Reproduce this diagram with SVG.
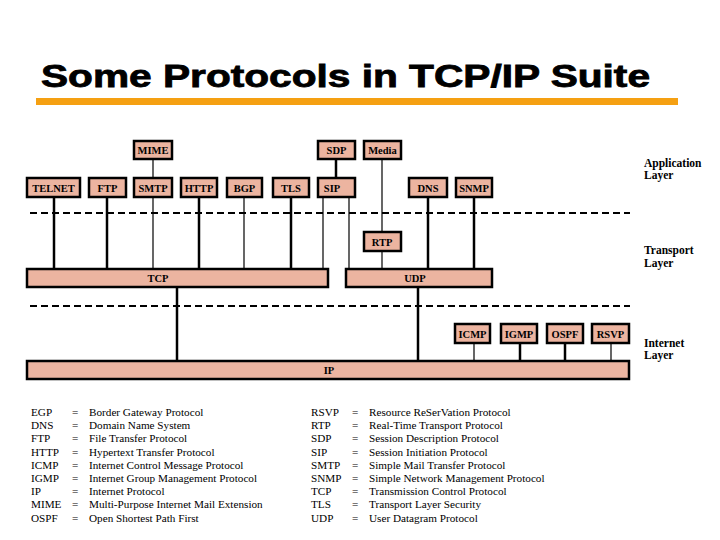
<svg xmlns="http://www.w3.org/2000/svg" width="720" height="540" viewBox="0 0 720 540">
<style>
.box{fill:#ecb4a0;stroke:#000;stroke-width:2.5}
.lbl{font-family:"Liberation Serif","Times New Roman",serif;font-weight:bold;font-size:10.5px;text-anchor:middle;fill:#000}
.thick{stroke:#000;stroke-width:2.5;fill:none}
.thin{stroke:#000;stroke-width:1.2;fill:none}
.dash{stroke:#000;stroke-width:2;stroke-dasharray:7 4;fill:none}
.layer{font-family:"Liberation Serif","Times New Roman",serif;font-weight:bold;font-size:11.5px;fill:#000}
.leg{font-family:"Liberation Serif","Times New Roman",serif;font-size:11.2px;fill:#000}
</style>
<rect width="720" height="540" fill="#fff"/>
<text x="41" y="87" font-family="'Liberation Sans',Arial,sans-serif" font-weight="bold" font-size="31" stroke="#000" stroke-width="0.8" textLength="609" lengthAdjust="spacingAndGlyphs">Some Protocols in TCP/IP Suite</text>
<rect x="36" y="98" width="642" height="7" fill="#f5a012"/>

<g id="connectors">
<line class="dash" x1="30" y1="213" x2="630" y2="213"/>
<line class="dash" x1="30" y1="306" x2="630" y2="306"/>
<line class="thin" x1="153" y1="159" x2="153" y2="178"/>
<line class="thick" x1="336" y1="159" x2="336" y2="178"/>
<line class="thin" x1="382" y1="159" x2="382" y2="232"/>
<line class="thick" x1="54" y1="197" x2="54" y2="269"/>
<line class="thick" x1="107" y1="197" x2="107" y2="269"/>
<line class="thin" x1="153" y1="197" x2="153" y2="269"/>
<line class="thick" x1="199" y1="197" x2="199" y2="269"/>
<line class="thin" x1="244" y1="197" x2="244" y2="269"/>
<line class="thick" x1="291" y1="197" x2="291" y2="269"/>
<line class="thin" x1="323" y1="197" x2="323" y2="269"/>
<line class="thin" x1="349" y1="197" x2="349" y2="269"/>
<line class="thin" x1="382" y1="251" x2="382" y2="269"/>
<line class="thick" x1="428" y1="197" x2="428" y2="269"/>
<line class="thick" x1="474" y1="197" x2="474" y2="269"/>
<line class="thick" x1="177" y1="287" x2="177" y2="361"/>
<line class="thick" x1="418" y1="287" x2="418" y2="361"/>
<line class="thin" x1="474" y1="343" x2="474" y2="361"/>
<line class="thick" x1="520" y1="343" x2="520" y2="361"/>
<line class="thick" x1="565" y1="343" x2="565" y2="361"/>
<line class="thin" x1="611" y1="343" x2="611" y2="361"/>
</g>

<g id="MIME"><rect class="box" x="134" y="141" width="38" height="18"/><text class="lbl" x="153" y="153.5">MIME</text></g>
<g id="SDP"><rect class="box" x="318" y="141" width="37" height="18"/><text class="lbl" x="336.5" y="153.5">SDP</text></g>
<g id="Media"><rect class="box" x="364" y="141" width="37" height="18"/><text class="lbl" x="382.5" y="153.5">Media</text></g>
<g id="TELNET"><rect class="box" x="27" y="178" width="53" height="19"/><text class="lbl" x="53.5" y="191.5">TELNET</text></g>
<g id="FTP"><rect class="box" x="89" y="178" width="37" height="19"/><text class="lbl" x="107.5" y="191.5">FTP</text></g>
<g id="SMTP"><rect class="box" x="134" y="178" width="38" height="19"/><text class="lbl" x="153" y="191.5">SMTP</text></g>
<g id="HTTP"><rect class="box" x="181" y="178" width="36" height="19"/><text class="lbl" x="199" y="191.5">HTTP</text></g>
<g id="BGP"><rect class="box" x="227" y="178" width="35" height="19"/><text class="lbl" x="244.5" y="191.5">BGP</text></g>
<g id="TLS"><rect class="box" x="273" y="178" width="36" height="19"/><text class="lbl" x="291" y="191.5">TLS</text></g>
<g id="SIP"><rect class="box" x="318" y="178" width="37" height="19"/><text class="lbl" x="332" y="191.5">SIP</text></g>
<g id="DNS"><rect class="box" x="409" y="178" width="38" height="19"/><text class="lbl" x="428" y="191.5">DNS</text></g>
<g id="SNMP"><rect class="box" x="456" y="178" width="36" height="19"/><text class="lbl" x="474" y="191.5">SNMP</text></g>
<g id="RTP"><rect class="box" x="364" y="232" width="37" height="19"/><text class="lbl" x="382" y="245.5">RTP</text></g>
<g id="TCP"><rect class="box" x="27" y="269" width="301" height="18"/><text class="lbl" x="158" y="282">TCP</text></g>
<g id="UDP"><rect class="box" x="346" y="269" width="146" height="18"/><text class="lbl" x="415" y="282">UDP</text></g>
<g id="ICMP"><rect class="box" x="455" y="324" width="35" height="19"/><text class="lbl" x="472.5" y="337.5">ICMP</text></g>
<g id="IGMP"><rect class="box" x="501" y="324" width="36" height="19"/><text class="lbl" x="519" y="337.5">IGMP</text></g>
<g id="OSPF"><rect class="box" x="547" y="324" width="36" height="19"/><text class="lbl" x="565" y="337.5">OSPF</text></g>
<g id="RSVP"><rect class="box" x="592" y="324" width="37" height="19"/><text class="lbl" x="610.5" y="337.5">RSVP</text></g>
<g id="IP"><rect class="box" x="27" y="361" width="602" height="18"/><text class="lbl" x="329" y="374">IP</text></g>

<g id="layers">
<text class="layer" x="644" y="167">Application</text>
<text class="layer" x="644" y="179">Layer</text>
<text class="layer" x="644" y="254" font-weight="normal">Transport</text>
<text class="layer" x="644" y="267" font-weight="normal">Layer</text>
<text class="layer" x="644" y="347">Internet</text>
<text class="layer" x="644" y="359">Layer</text>
</g>

<g id="legend" class="leg">
<text x="31" y="416">EGP</text><text x="72" y="416">=</text><text x="89" y="416">Border Gateway Protocol</text>
<text x="31" y="429.2">DNS</text><text x="72" y="429.2">=</text><text x="89" y="429.2">Domain Name System</text>
<text x="31" y="442.4">FTP</text><text x="72" y="442.4">=</text><text x="89" y="442.4">File Transfer Protocol</text>
<text x="31" y="455.6">HTTP</text><text x="72" y="455.6">=</text><text x="89" y="455.6">Hypertext Transfer Protocol</text>
<text x="31" y="468.8">ICMP</text><text x="72" y="468.8">=</text><text x="89" y="468.8">Internet Control Message Protocol</text>
<text x="31" y="482">IGMP</text><text x="72" y="482">=</text><text x="89" y="482">Internet Group Management Protocol</text>
<text x="31" y="495.2">IP</text><text x="72" y="495.2">=</text><text x="89" y="495.2">Internet Protocol</text>
<text x="31" y="508.4">MIME</text><text x="72" y="508.4">=</text><text x="89" y="508.4">Multi-Purpose Internet Mail Extension</text>
<text x="31" y="521.6">OSPF</text><text x="72" y="521.6">=</text><text x="89" y="521.6">Open Shortest Path First</text>
<text x="311" y="416">RSVP</text><text x="352" y="416">=</text><text x="369" y="416">Resource ReSerVation Protocol</text>
<text x="311" y="429.2">RTP</text><text x="352" y="429.2">=</text><text x="369" y="429.2">Real-Time Transport Protocol</text>
<text x="311" y="442.4">SDP</text><text x="352" y="442.4">=</text><text x="369" y="442.4">Session Description Protocol</text>
<text x="311" y="455.6">SIP</text><text x="352" y="455.6">=</text><text x="369" y="455.6">Session Initiation Protocol</text>
<text x="311" y="468.8">SMTP</text><text x="352" y="468.8">=</text><text x="369" y="468.8">Simple Mail Transfer Protocol</text>
<text x="311" y="482">SNMP</text><text x="352" y="482">=</text><text x="369" y="482">Simple Network Management Protocol</text>
<text x="311" y="495.2">TCP</text><text x="352" y="495.2">=</text><text x="369" y="495.2">Transmission Control Protocol</text>
<text x="311" y="508.4">TLS</text><text x="352" y="508.4">=</text><text x="369" y="508.4">Transport Layer Security</text>
<text x="311" y="521.6">UDP</text><text x="352" y="521.6">=</text><text x="369" y="521.6">User Datagram Protocol</text>
</g>
</svg>
